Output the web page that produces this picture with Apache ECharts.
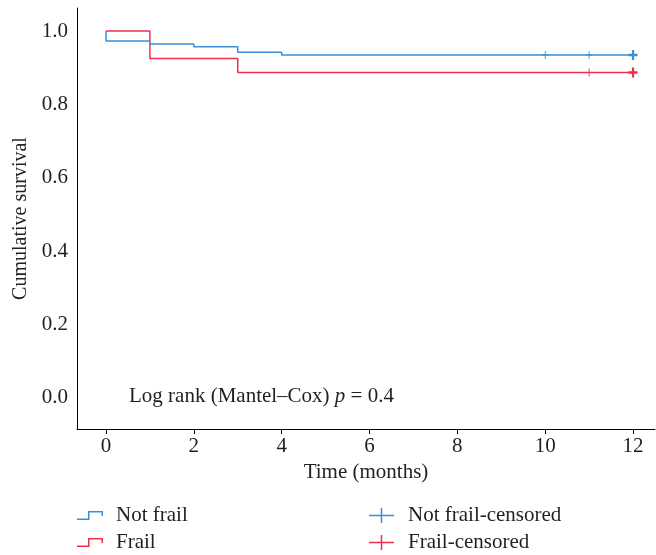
<!DOCTYPE html>
<html>
<head>
<meta charset="utf-8">
<script src="https://cdn.jsdelivr.net/npm/echarts@6/dist/echarts.min.js"></script>
<style>html,body{margin:0;padding:0;background:#fff;}#c{width:656px;height:555px;}</style>
</head>
<body>
<div id="c"></div>
<script>
// Data
var notFrailSteps = [[0, 1.0], [0, 0.973], [1, 0.965], [2, 0.957], [3, 0.942], [4, 0.935], [12, 0.935]];
var frailSteps = [[0, 1.0], [1, 0.925], [3, 0.887], [12, 0.887]];
var notFrailCensored = [[10, 0.935], [11, 0.935], [12, 0.935]];
var frailCensored = [[11, 0.887], [12, 0.887]];
var xTicks = [0, 2, 4, 6, 8, 10, 12];
var yTicks = [0, 0.2, 0.4, 0.6, 0.8, 1.0];
var seriesNames = ['Not frail', 'Frail', 'Not frail-censored', 'Frail-censored'];

var BLUE = '#3a8fd6';
var RED = '#f0304a';
var FONT = '"Liberation Serif", "DejaVu Serif", serif';
var TXT = '#231f20';

var stepIcon = 'path://M0,7.5H11V0H26V5H24.5V1.5H12.5V9H0Z';
var plusIcon = 'path://M0,6.75H11.75V0H13.25V6.75H25V8.25H13.25V15H11.75V8.25H0Z';
var plusMark = 'path://M0,3.5H3.5V0H4.5V3.5H8V4.5H4.5V8H3.5V4.5H0Z';
var plusBold = 'path://M0,3H3V0H5V3H8V5H5V8H3V5H0Z';

function censorData(arr) {
  return arr.map(function (p) {
    return p[0] === 12 ? { value: p, symbol: plusBold, symbolSize: [9, 10] } : p;
  });
}

var chart = echarts.init(document.getElementById('c'), null, { renderer: 'canvas' });
chart.setOption({
  animation: false,
  textStyle: { fontFamily: FONT },
  grid: { left: 77, right: 1, top: 8, bottom: 126, containLabel: false },
  xAxis: {
    type: 'value', min: -0.66, max: 12.5,
    name: 'Time (months)', nameLocation: 'middle', nameGap: 31,
    nameTextStyle: { fontFamily: FONT, fontSize: 21, color: TXT },
    axisLine: { onZero: false, lineStyle: { color: '#000', width: 1 } },
    axisTick: { show: true, length: 5, lineStyle: { color: '#000' }, customValues: xTicks },
    axisLabel: { customValues: xTicks, fontFamily: FONT, fontSize: 21, color: TXT, margin: 7 },
    splitLine: { show: false }
  },
  yAxis: {
    type: 'value', min: -0.085, max: 1.063,
    name: 'Cumulative survival', nameLocation: 'middle', nameGap: 46, nameRotate: 90,
    nameTextStyle: { fontFamily: FONT, fontSize: 20, color: TXT },
    axisLine: { show: true, onZero: false, lineStyle: { color: '#000', width: 1 } },
    axisTick: { show: false },
    axisLabel: { customValues: yTicks, fontFamily: FONT, fontSize: 21, color: TXT, margin: 9,
      formatter: function (v) { return v.toFixed(1); } },
    splitLine: { show: false }
  },
  legend: [
    {
      left: 77, top: 505, height: 60, padding: 0, orient: 'vertical', itemGap: 6, itemWidth: 26, itemHeight: 9,
      textStyle: { fontFamily: FONT, fontSize: 21, color: TXT, padding: [0, 0, 0, 8] },
      data: [
        { name: seriesNames[0], icon: stepIcon, itemStyle: { color: BLUE } },
        { name: seriesNames[1], icon: stepIcon, itemStyle: { color: RED } }
      ]
    },
    {
      left: 369, top: 505, height: 60, padding: 0, orient: 'vertical', itemGap: 6, itemWidth: 25, itemHeight: 15,
      textStyle: { fontFamily: FONT, fontSize: 21, color: TXT, padding: [0, 0, 0, 9] },
      data: [
        { name: seriesNames[2], icon: plusIcon, itemStyle: { color: BLUE } },
        { name: seriesNames[3], icon: plusIcon, itemStyle: { color: RED } }
      ]
    }
  ],
  series: [
    {
      name: seriesNames[0], type: 'line', step: 'end', data: notFrailSteps,
      showSymbol: false, lineStyle: { color: BLUE, width: 1.5 }, itemStyle: { color: BLUE }, z: 3
    },
    {
      name: seriesNames[1], type: 'line', step: 'end', data: frailSteps,
      showSymbol: false, lineStyle: { color: RED, width: 1.5 }, itemStyle: { color: RED }, z: 2
    },
    {
      name: seriesNames[2], type: 'scatter', data: censorData(notFrailCensored),
      symbol: plusMark, symbolSize: [7, 8], itemStyle: { color: BLUE, opacity: 1 }, z: 4
    },
    {
      name: seriesNames[3], type: 'scatter', data: censorData(frailCensored),
      symbol: plusMark, symbolSize: [7, 8], itemStyle: { color: RED, opacity: 1 }, z: 4
    }
  ],
  graphic: [
    {
      type: 'text', left: 129, top: 386,
      style: {
        text: '{a|Log rank (Mantel–Cox) }{i|p}{a| = 0.4}',
        rich: {
          a: { fontFamily: FONT, fontSize: 21, fill: TXT },
          i: { fontFamily: FONT, fontSize: 21, fontStyle: 'italic', fill: TXT }
        }
      }
    }
  ]
});
</script>
</body>
</html>
